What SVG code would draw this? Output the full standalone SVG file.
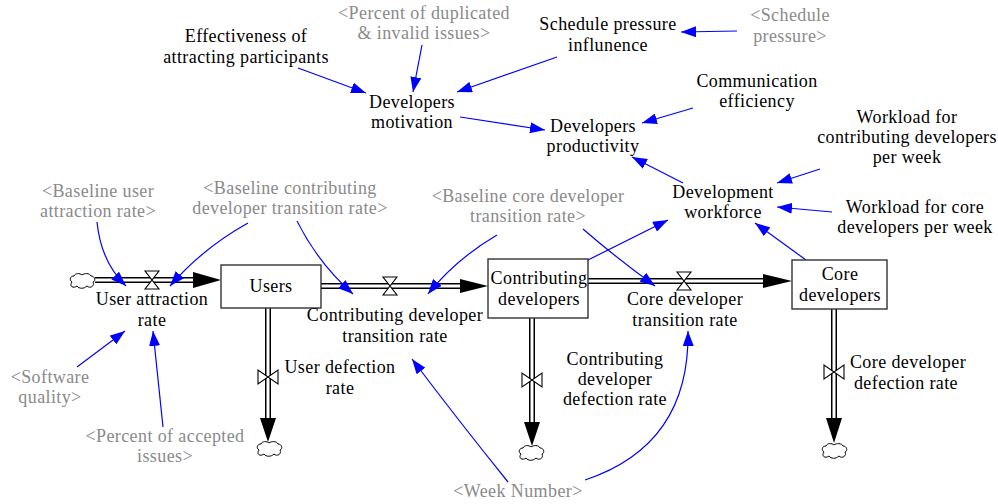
<svg xmlns="http://www.w3.org/2000/svg" width="998" height="504" viewBox="0 0 998 504">
<defs>
<marker id="ah" markerWidth="16" markerHeight="11" refX="15" refY="5.5" orient="auto" markerUnits="userSpaceOnUse"><path d="M0,0 L15,5.5 L0,11 Z" fill="#0000ff"/></marker>
<path id="cloud" d="M3,9 C0,7 1,3 5,3 C6,0 11,0 13,2 C15,0 21,0 22,3 C26,3 27,8 24,9 C26,13 21,16 18,13 C15,16 10,16 8,13 C4,16 0,13 3,9 Z" fill="#fff" stroke="#000" stroke-width="1"/>
<path id="valveH" d="M-7,-9 L7,-9 L-7,9 L7,9 Z" fill="#fff" stroke="#000" stroke-width="1.1"/>
<path id="valveV" d="M-10,-7 L-10,7 L10,-7 L10,7 Z" fill="#fff" stroke="#000" stroke-width="1.1"/>
</defs>
<style>
text{font-family:"Liberation Serif","Times New Roman",serif;font-size:18px;letter-spacing:0.4px;text-anchor:middle;fill:#000}
.g{fill:#8a8a8a}
.stock{fill:#fff;stroke:#333;stroke-width:1.4}
.po{stroke:#000;stroke-width:6;fill:none}
.pi{stroke:#fff;stroke-width:3;fill:none}
.head{fill:#000}
.link{fill:none;stroke:#0000ff;stroke-width:1.2;marker-end:url(#ah)}
</style>
<rect width="998" height="504" fill="#fff"/>

<g id="flows">
<line class="po" x1="95" y1="280" x2="196" y2="280"/><line class="pi" x1="94" y1="280" x2="196" y2="280"/>
<path class="head" d="M193,272 L221,280 L193,288 Z"/>
<line class="po" x1="321" y1="286" x2="462" y2="286"/><line class="pi" x1="321" y1="286" x2="462" y2="286"/>
<path class="head" d="M460,279 L488,286 L460,293 Z"/>
<line class="po" x1="588" y1="281" x2="766" y2="281"/><line class="pi" x1="588" y1="281" x2="766" y2="281"/>
<path class="head" d="M763,274 L792,281 L763,288 Z"/>
<line class="po" x1="268" y1="308" x2="268" y2="420"/><line class="pi" x1="268" y1="308" x2="268" y2="420"/>
<path class="head" d="M260,418 L268,442 L276,418 Z"/>
<line class="po" x1="532" y1="318" x2="532" y2="424"/><line class="pi" x1="532" y1="318" x2="532" y2="424"/>
<path class="head" d="M524,422 L532,446 L540,422 Z"/>
<line class="po" x1="834" y1="309" x2="834" y2="420"/><line class="pi" x1="834" y1="309" x2="834" y2="420"/>
<path class="head" d="M826,418 L834,443 L842,418 Z"/>
<use href="#cloud" x="69" y="273"/>
<use href="#cloud" x="256" y="441"/>
<use href="#cloud" x="518" y="445"/>
<use href="#cloud" x="821" y="443"/>
</g>

<g id="connectors">
<path class="link" d="M97,222 Q101,262 126,286"/>
<path class="link" d="M248,223 Q203,248 170,286"/>
<path class="link" d="M297,221 Q318,263 353,294"/>
<path class="link" d="M497,235 Q456,259 428,294"/>
<path class="link" d="M583,229 Q614,256 655,286"/>
<path class="link" d="M77,367 L125,331"/>
<path class="link" d="M163,427 L153,331"/>
<path class="link" d="M508,482 Q458,420 412,359"/>
<path class="link" d="M585,480 Q690,445 688,331"/>
<path class="link" d="M298,68 L366,93"/>
<path class="link" d="M422,45 L413,92"/>
<path class="link" d="M557,57 L457,92"/>
<path class="link" d="M737,31 L681,32"/>
<path class="link" d="M460,117 L545,130"/>
<path class="link" d="M693,108 L642,123"/>
<path class="link" d="M820,169 L777,183"/>
<path class="link" d="M832,212 L777,207"/>
<path class="link" d="M683,183 L632,157"/>
<path class="link" d="M586,261 L668,220"/>
<path class="link" d="M806,260 L755,223"/>
</g>

<g id="users"><rect class="stock" x="221" y="265" width="100" height="43"/><text x="271" y="292">Users</text></g>
<g id="contributing-developers"><rect class="stock" x="488" y="259" width="100" height="59"/><text x="539" y="284">Contributing</text><text x="539" y="305">developers</text></g>
<g id="core-developers"><rect class="stock" x="792" y="260" width="95" height="49"/><text x="840" y="280">Core</text><text x="840" y="301">developers</text></g>

<g id="user-attraction-rate"><use href="#valveH" x="152" y="280"/><text x="152" y="305">User attraction</text><text x="152" y="326">rate</text></g>
<g id="contributing-developer-transition-rate"><use href="#valveH" x="390" y="286"/><text x="395" y="321">Contributing developer</text><text x="395" y="342">transition rate</text></g>
<g id="core-developer-transition-rate"><use href="#valveH" x="684" y="281"/><text x="685" y="305">Core developer</text><text x="685" y="326">transition rate</text></g>
<g id="user-defection-rate"><use href="#valveV" x="268" y="377"/><text x="340" y="373">User defection</text><text x="340" y="394">rate</text></g>
<g id="contributing-developer-defection-rate"><use href="#valveV" x="532" y="380"/><text x="615" y="365">Contributing</text><text x="615" y="385">developer</text><text x="615" y="405">defection rate</text></g>
<g id="core-developer-defection-rate"><use href="#valveV" x="834" y="372"/><text x="908" y="368">Core developer</text><text x="906" y="389">defection rate</text></g>

<g id="baseline-user-attraction-rate"><text class="g" x="98" y="197">&lt;Baseline user</text><text class="g" x="98" y="217">attraction rate&gt;</text></g>
<g id="baseline-contributing-developer-transition-rate"><text class="g" x="290" y="194">&lt;Baseline contributing</text><text class="g" x="290" y="214">developer transition rate&gt;</text></g>
<g id="baseline-core-developer-transition-rate"><text class="g" x="528" y="202">&lt;Baseline core developer</text><text class="g" x="528" y="222">transition rate&gt;</text></g>
<g id="software-quality"><text class="g" x="50" y="383">&lt;Software</text><text class="g" x="50" y="403">quality&gt;</text></g>
<g id="percent-of-accepted-issues"><text class="g" x="165" y="442">&lt;Percent of accepted</text><text class="g" x="165" y="462">issues&gt;</text></g>
<g id="week-number"><text class="g" x="518" y="497">&lt;Week Number&gt;</text></g>

<g id="effectiveness-of-attracting-participants"><text x="246" y="42">Effectiveness of</text><text x="246" y="63">attracting participants</text></g>
<g id="percent-of-duplicated-invalid-issues"><text class="g" x="424" y="19">&lt;Percent of duplicated</text><text class="g" x="424" y="39">&amp; invalid issues&gt;</text></g>
<g id="schedule-pressure-influence"><text x="608" y="30">Schedule pressure</text><text x="608" y="51">influnence</text></g>
<g id="schedule-pressure"><text class="g" x="790" y="21">&lt;Schedule</text><text class="g" x="790" y="42">pressure&gt;</text></g>
<g id="developers-motivation"><text x="412" y="108">Developers</text><text x="412" y="128">motivation</text></g>
<g id="developers-productivity"><text x="593" y="132">Developers</text><text x="593" y="152">productivity</text></g>
<g id="communication-efficiency"><text x="757" y="87">Communication</text><text x="757" y="107">efficiency</text></g>
<g id="development-workforce"><text x="723" y="198">Development</text><text x="723" y="218">workforce</text></g>
<g id="workload-contributing"><text x="907" y="123">Workload for</text><text x="907" y="143">contributing developers</text><text x="907" y="163">per week</text></g>
<g id="workload-core"><text x="915" y="213">Workload for core</text><text x="915" y="233">developers per week</text></g>
</svg>
